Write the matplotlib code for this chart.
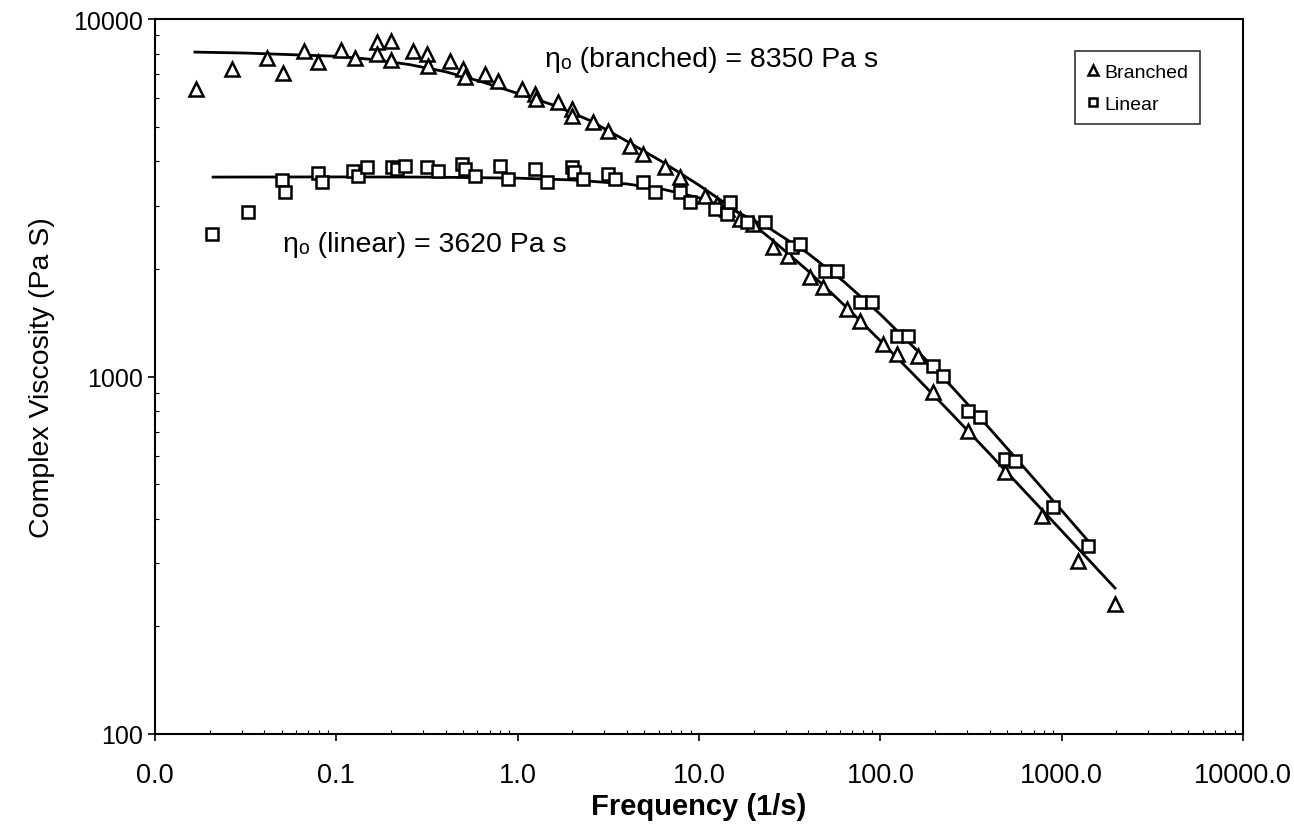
import matplotlib
matplotlib.use("Agg")
import matplotlib.pyplot as plt
from matplotlib.ticker import FixedLocator, LogLocator, NullFormatter

plt.rcParams['font.family'] = ['Liberation Sans', 'DejaVu Sans']

# ================= DATA =================
# branched sample (triangles)
branched_freq = [0.0168, 0.0266, 0.0415, 0.0508, 0.0664, 0.0792, 0.106, 0.127, 0.168, 0.168,
                 0.200, 0.200, 0.265, 0.316, 0.320, 0.424, 0.500, 0.51, 0.661, 0.779,
                 1.056, 1.246, 1.26, 1.669, 1.993, 2.0, 2.603, 3.149, 4.164, 4.912,
                 6.494, 7.860, 10.79, 12.57, 14.27, 16.84, 19.85, 25.59, 30.96, 40.95,
                 48.30, 65.50, 77.26, 103.5, 123.6, 161.4, 195.2, 304.5, 487.2, 779,
                 1231, 1969]
branched_visc = [6371, 7246, 7780, 7063, 8138, 7580, 8190, 7780, 8623, 7983,
                 8680, 7680, 8138, 7983, 7387, 7630, 7246, 6884, 7017, 6707,
                 6371, 6170, 5974, 5860, 5602, 5355, 5151, 4862, 4414, 4192,
                 3855, 3614, 3198, 3037, 2941, 2758, 2670, 2302, 2173, 1899,
                 1780, 1545, 1430, 1233, 1156, 1141, 905, 704, 541, 407,
                 305, 231]

# linear sample (squares)
linear_freq = [0.0206, 0.0326, 0.0502, 0.0521, 0.0792, 0.0834, 0.124, 0.132, 0.148, 0.203,
               0.216, 0.239, 0.316, 0.364, 0.493, 0.512, 0.582, 0.799, 0.885, 1.246,
               1.451, 1.993, 2.05, 2.293, 3.149, 3.441, 4.912, 5.717, 7.860, 8.921,
               12.26, 14.27, 14.83, 18.40, 23.12, 32.58, 36.06, 49.54, 57.68, 77.26,
               89.98, 123.6, 142.1, 195.2, 221.7, 304.5, 354.5, 487.2, 552.9, 896,
               1397]
linear_visc = [2503, 2885, 3545, 3282, 3708, 3500, 3756, 3638, 3855, 3855,
               3805, 3880, 3855, 3756, 3930, 3805, 3638, 3880, 3568, 3805,
               3500, 3855, 3733, 3568, 3685, 3568, 3500, 3282, 3282, 3077,
               2941, 2848, 3077, 2705, 2705, 2302, 2348, 1973, 1973, 1616,
               1616, 1298, 1298, 1070, 1003, 801, 770, 588, 580, 431,
               336]

# fitted curves
branched_fit_freq = [0.0166, 0.0316, 0.1, 0.1585, 0.2512, 0.3981, 0.631, 1.0, 1.585, 2.512,
                     3.981, 6.310, 10.0, 15.85, 25.12, 39.81, 63.10, 100.0, 158.5, 251.2,
                     398.1, 631.0, 1000.0, 1585.0, 1968.0]
branched_fit_visc = [8085, 8035, 7870, 7709, 7464, 7129, 6683, 6194, 5741, 5200,
                     4560, 3980, 3430, 2920, 2420, 1977, 1585, 1259, 993, 780,
                     610, 475, 370, 288, 256]

linear_fit_freq = [0.0209, 0.1, 0.3162, 1.0, 1.995, 3.981, 6.310, 10.0, 15.85, 25.12,
                   39.81, 63.10, 100.0, 158.5, 251.2, 398.1, 631.0, 1000.0, 1432.0]
linear_fit_visc = [3614, 3618, 3614, 3589, 3548, 3459, 3342, 3162, 2904, 2576,
                   2213, 1841, 1493, 1186, 929, 718, 551, 422, 342]

x_ticks = [0.01, 0.1, 1, 10, 100, 1000, 10000]
x_labels = ["0.0", "0.1", "1.0", "10.0", "100.0", "1000.0", "10000.0"]
y_ticks = [100, 1000, 10000]
y_labels = ["100", "1000", "10000"]

# ================= PLOT =================
fig = plt.figure(figsize=(12.94, 8.37), dpi=100)
ax = fig.add_axes([0.1198, 0.1219, 0.8408, 0.8541])

ax.plot(branched_fit_freq, branched_fit_visc, color='black', lw=2.0, zorder=2)
ax.plot(linear_fit_freq, linear_fit_visc, color='black', lw=2.0, zorder=2)

ax.plot(branched_freq, branched_visc, linestyle='none', marker='^', markersize=10,
        markerfacecolor='white', markeredgecolor='black', markeredgewidth=1.8,
        label='Branched', zorder=3)
ax.plot(linear_freq, linear_visc, linestyle='none', marker='s', markersize=8.5,
        markerfacecolor='white', markeredgecolor='black', markeredgewidth=1.8,
        label='Linear', zorder=3)

ax.set_xscale('log')
ax.set_yscale('log')
ax.set_xlim(0.01, 10000)
ax.set_ylim(100, 10000)

ax.xaxis.set_major_locator(FixedLocator(x_ticks))
ax.set_xticklabels(x_labels)
ax.yaxis.set_major_locator(FixedLocator(y_ticks))
ax.set_yticklabels(y_labels)
ax.xaxis.set_minor_locator(LogLocator(base=10, subs=range(2, 10)))
ax.yaxis.set_minor_locator(LogLocator(base=10, subs=range(2, 10)))
ax.xaxis.set_minor_formatter(NullFormatter())
ax.yaxis.set_minor_formatter(NullFormatter())

ax.tick_params(which='major', direction='out', length=5, width=1.2)
ax.tick_params(axis='x', which='major', labelsize=19.5, pad=15)
ax.tick_params(axis='y', which='major', labelsize=18, pad=4)
ax.tick_params(which='minor', direction='in', length=3, width=0.8)
for s in ax.spines.values():
    s.set_linewidth(1.5)

ax.set_xlabel('Frequency (1/s)', fontsize=21, fontweight='bold', labelpad=3)
ax.set_ylabel('Complex Viscosity (Pa S)', fontsize=20.5, labelpad=13)

ax.text(1.415, 7730, 'ηₒ (branched) = 8350 Pa s', fontsize=20.5,
        ha='left', va='center')
ax.text(0.0508, 2348, 'ηₒ (linear) = 3620 Pa s', fontsize=20.5,
        ha='left', va='center')

leg = ax.legend(loc='upper right', bbox_to_anchor=(0.9605, 0.955), fontsize=14,
                frameon=True, fancybox=False, markerscale=0.75, handlelength=0.6,
                handletextpad=0.3, borderpad=0.6, labelspacing=0.75, borderaxespad=0)
leg.get_frame().set_edgecolor('black')
leg.get_frame().set_linewidth(1.2)

fig.savefig('out.png', dpi=100)
